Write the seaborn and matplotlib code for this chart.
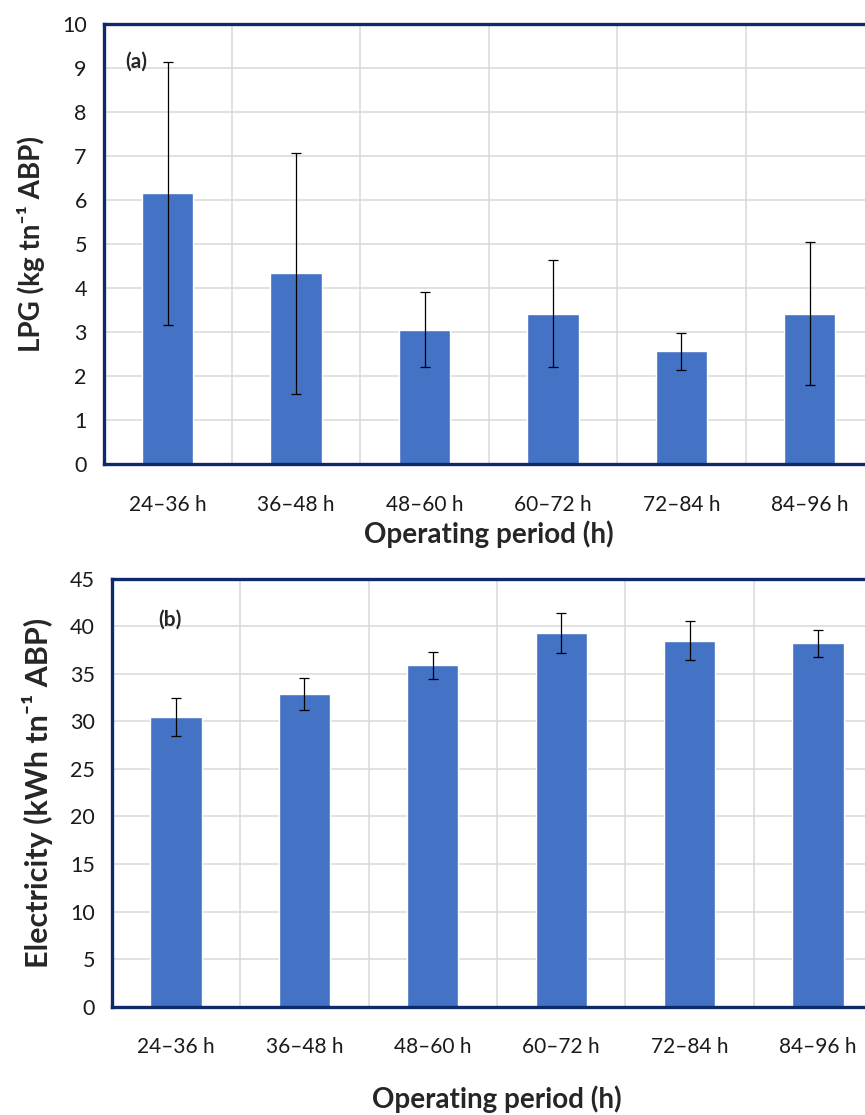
import matplotlib
matplotlib.use("Agg")
import matplotlib.pyplot as plt
import numpy as np
import pandas as pd
import seaborn as sns

# data
periods = ["24–36 h", "36–48 h", "48–60 h", "60–72 h", "72–84 h", "84–96 h"]
lpg_mean = [6.15, 4.34, 3.06, 3.42, 2.57, 3.42]
lpg_err = [2.99, 2.74, 0.85, 1.22, 0.42, 1.63]
elec_mean = [30.5, 32.9, 35.9, 39.3, 38.5, 38.2]
elec_err = [2.0, 1.7, 1.42, 2.1, 2.1, 1.42]

BAR = "#4472C4"
NAVY = "#0E2A6B"
GRID = "#D9D9D9"

sns.set_theme(style="white")
plt.rcParams["font.family"] = ["Lato", "DejaVu Sans"]


def _panel(ax, means, errs, ylim, ystep, ylabel, ylabel_size, xlabel_pad, tag, tag_xy):
    df = pd.DataFrame({"period": periods, "value": means})
    sns.barplot(data=df, x="period", y="value", color=BAR, saturation=1,
                width=0.4, ax=ax, errorbar=None, zorder=2)
    ax.errorbar(np.arange(len(periods)), means, yerr=errs, fmt="none",
                ecolor="black", elinewidth=0.9, capsize=3.5, capthick=0.9, zorder=3)

    ax.set_xlim(-0.5, len(periods) - 0.5)
    ax.set_ylim(*ylim)
    ax.set_yticks(np.arange(ylim[0], ylim[1] + 0.01, ystep))
    # ticks at category boundaries, labels centered
    ax.set_xticks(np.arange(-0.5, len(periods), 1.0))
    ax.set_xticklabels([])
    ax.set_xticks(np.arange(len(periods)), minor=True)
    ax.set_xticklabels(periods, minor=True)
    ax.tick_params(axis="x", which="minor", length=0, labelsize=15, pad=22,
                   labelcolor="#1a1a1a")
    ax.tick_params(axis="x", which="major", length=6, width=2.2, color=NAVY,
                   direction="out")
    ax.tick_params(axis="y", length=5, width=1.5, color=NAVY, labelsize=15.5,
                   direction="out", pad=7, labelcolor="#1a1a1a")

    ax.grid(True, which="major", color=GRID, linewidth=1.1, zorder=0)
    ax.set_axisbelow(True)
    for side in ["left", "bottom", "top"]:
        ax.spines[side].set_color(NAVY)
        ax.spines[side].set_linewidth(2.4)
    ax.spines["right"].set_visible(False)

    ax.set_xlabel("Operating period (h)", fontsize=20, fontweight="bold",
                  labelpad=xlabel_pad)
    ax.set_ylabel(ylabel, fontsize=ylabel_size, fontweight="bold", labelpad=12)
    ax.text(tag_xy[0], tag_xy[1], tag, transform=ax.transAxes, fontsize=15,
            fontweight="bold", ha="left", va="center")


fig = plt.figure(figsize=(8.65, 11.15), dpi=100)
ax_a = fig.add_axes([0.1197, 0.5836, 0.8906, 0.3949])
ax_b = fig.add_axes([0.1291, 0.0971, 0.8910, 0.3839])

_panel(ax_a, lpg_mean, lpg_err, (0, 10), 1, "LPG (kg tn⁻¹ ABP)", 20, 4,
       "(a)", (0.028, 0.915))
_panel(ax_b, elec_mean, elec_err, (0, 45), 5, "Electricity (kWh tn⁻¹ ABP)", 22, 20,
       "(b)", (0.06, 0.905))

fig.savefig("out.png", dpi=100)
plt.close(fig)
